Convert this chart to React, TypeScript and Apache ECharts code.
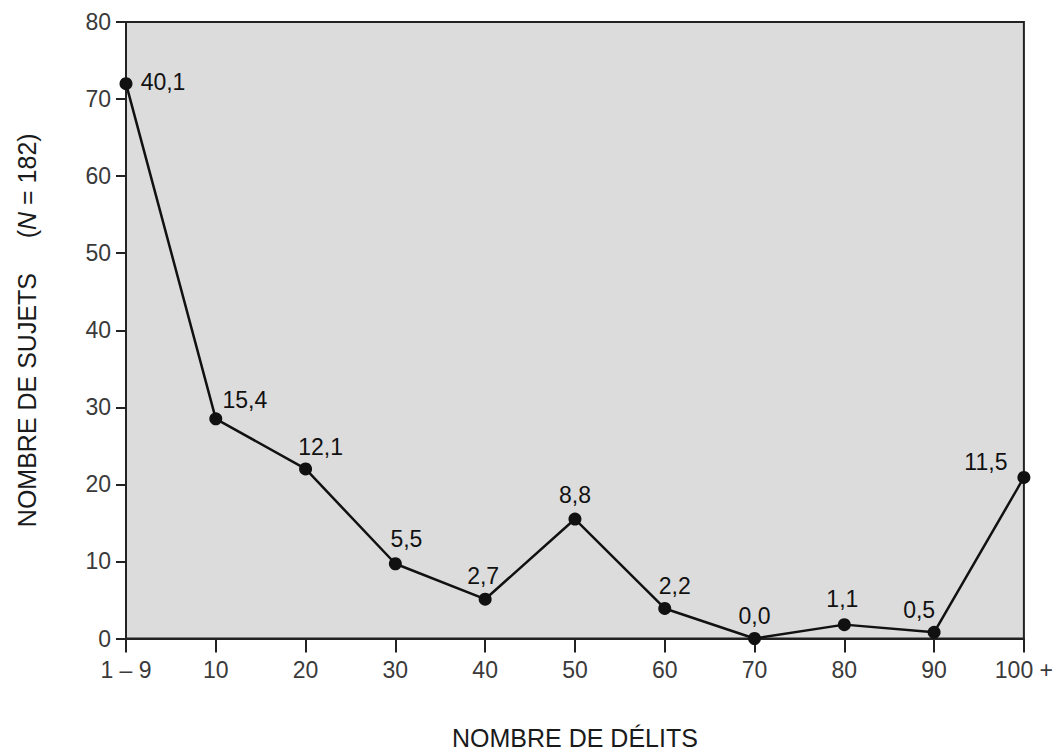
import React, { useEffect, useRef } from "react";
import * as echarts from "echarts";

// Data
const categories: string[] = ["1 – 9", "10", "20", "30", "40", "50", "60", "70", "80", "90", "100 +"];
const sujets: number[] = [72, 28.5, 22, 9.7, 5.1, 15.5, 3.9, 0, 1.8, 0.8, 20.9];
const pourcentages: string[] = ["40,1", "15,4", "12,1", "5,5", "2,7", "8,8", "2,2", "0,0", "1,1", "0,5", "11,5"];
const yTicks = { min: 0, max: 80, interval: 10 };

// Label placement (style only)
const labelOffsets: number[][] = [
  [37, -2], [29, -19], [15, -22], [11, -25], [-2, -23], [0, -24],
  [10, -22], [0, -23], [-2, -26], [-15, -22], [-38, -15],
];

const FONT = "'Liberation Sans', Arial, Helvetica, sans-serif";

export default function App() {
  const ref = useRef<HTMLDivElement>(null);
  useEffect(() => {
    if (!ref.current) return;
    const chart = echarts.init(ref.current, undefined, { renderer: "svg" });
    chart.setOption({
      animation: false,
      backgroundColor: "#ffffff",
      textStyle: { fontFamily: FONT },
      grid: {
        left: 126,
        right: 31,
        top: 22,
        bottom: 112,
        show: true,
        backgroundColor: "#dcdcdc",
        borderColor: "#222",
        borderWidth: 2,
        containLabel: false,
      },
      xAxis: {
        type: "category",
        data: categories,
        boundaryGap: false,
        name: "NOMBRE DE DÉLITS",
        nameLocation: "middle",
        nameGap: 99,
        nameTextStyle: {
          fontSize: 25,
          color: "#1a1a1a",
          fontFamily: FONT,
          verticalAlign: "middle",
        },
        axisLine: { show: true, lineStyle: { color: "#222", width: 2 } },
        axisTick: { show: true, length: 14, alignWithLabel: true, lineStyle: { color: "#222", width: 2 } },
        axisLabel: { interval: 0, fontSize: 23, color: "#3a3a3a", margin: 20, fontFamily: FONT },
        splitLine: { show: false },
      },
      yAxis: {
        type: "value",
        min: yTicks.min,
        max: yTicks.max,
        interval: yTicks.interval,
        name: "NOMBRE DE SUJETS     ({i|N} = 182)",
        nameLocation: "middle",
        nameRotate: 90,
        nameGap: 99,
        nameTextStyle: {
          fontSize: 25,
          color: "#1a1a1a",
          fontFamily: FONT,
          verticalAlign: "middle",
          rich: {
            i: { fontSize: 25, fontStyle: "italic", color: "#1a1a1a", fontFamily: FONT },
          },
        },
        axisLine: { show: true, lineStyle: { color: "#222", width: 2 } },
        axisTick: { show: true, length: 10, lineStyle: { color: "#222", width: 2 } },
        axisLabel: { fontSize: 23, color: "#3a3a3a", margin: 15, fontFamily: FONT },
        splitLine: { show: false },
      },
      series: [
        {
          type: "line",
          data: sujets.map((v, i) => ({
            value: v,
            label: {
              show: true,
              position: "inside",
              offset: labelOffsets[i],
              formatter: () => pourcentages[i],
            },
          })),
          clip: false,
          symbol: "circle",
          symbolSize: 13,
          itemStyle: { color: "#111" },
          lineStyle: { color: "#111", width: 2.5 },
          label: {
            show: true,
            fontSize: 23,
            color: "#111",
            fontFamily: FONT,
            align: "center",
            verticalAlign: "middle",
          },
          z: 5,
        },
      ],
    });
    return () => chart.dispose();
  }, []);
  return (
    <div
      ref={ref}
      style={{ position: "fixed", left: 0, top: 0, width: 1056, height: 755, background: "#fff" }}
    />
  );
}
